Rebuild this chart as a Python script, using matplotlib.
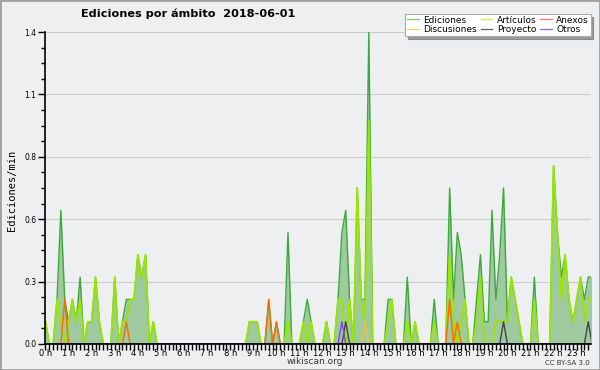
import numpy as np
import matplotlib.pyplot as plt
from matplotlib.lines import Line2D
from matplotlib.patches import Rectangle

# edits per minute, one value per 10-minute slot (12 slots per row = 2 hours)
ediciones = [
    0.1, 0, 0, 0.2, 0.6, 0.2, 0.1, 0.2, 0.1, 0.3, 0, 0.1,
    0.1, 0.3, 0.1, 0, 0, 0, 0.3, 0, 0.1, 0.2, 0.2, 0.2,
    0.4, 0.3, 0.4, 0, 0.1, 0, 0, 0, 0, 0, 0, 0,
    0, 0, 0, 0, 0, 0, 0, 0, 0, 0, 0, 0,
    0, 0, 0, 0, 0, 0.1, 0.1, 0.1, 0, 0, 0.2, 0,
    0.1, 0, 0, 0.5, 0, 0, 0, 0.1, 0.2, 0.1, 0, 0,
    0, 0.1, 0, 0, 0.2, 0.5, 0.6, 0.2, 0, 0.7, 0.2, 0.2,
    1.4, 0, 0, 0, 0, 0.2, 0.2, 0, 0, 0, 0.3, 0,
    0.1, 0, 0, 0, 0, 0.2, 0, 0, 0, 0.7, 0.2, 0.5,
    0.4, 0.2, 0, 0, 0.2, 0.4, 0.1, 0.1, 0.6, 0.2, 0.4, 0.7,
    0.1, 0.3, 0.2, 0.1, 0, 0, 0, 0.3, 0, 0, 0, 0,
    0.8, 0.5, 0.3, 0.4, 0.2, 0.1, 0.2, 0.3, 0.2, 0.3, 0.3, 0.2,
]
articulos = [
    0.1, 0, 0, 0.2, 0.1, 0, 0.1, 0.2, 0.1, 0.2, 0, 0.1,
    0.1, 0.3, 0.1, 0, 0, 0, 0.3, 0, 0.1, 0.1, 0.2, 0.2,
    0.4, 0.3, 0.4, 0, 0.1, 0, 0, 0, 0, 0, 0, 0,
    0, 0, 0, 0, 0, 0, 0, 0, 0, 0, 0, 0,
    0, 0, 0, 0, 0, 0.1, 0.1, 0.1, 0, 0, 0, 0,
    0, 0, 0, 0.1, 0, 0, 0, 0.1, 0, 0.1, 0, 0,
    0, 0.1, 0, 0, 0.2, 0.2, 0, 0.2, 0, 0.7, 0.2, 0.1,
    1.0, 0, 0, 0, 0, 0.1, 0.2, 0, 0, 0, 0.1, 0,
    0.1, 0, 0, 0, 0, 0.1, 0, 0, 0, 0.4, 0.1, 0,
    0.1, 0.2, 0, 0, 0.1, 0.3, 0, 0, 0, 0.1, 0.1, 0.1,
    0.1, 0.3, 0.2, 0.1, 0, 0, 0, 0.2, 0, 0, 0, 0,
    0.8, 0.5, 0.2, 0.4, 0.2, 0.1, 0.2, 0.3, 0.1, 0.2, 0.2, 0.1,
]
# sparse series: time slot -> edits per minute
anexos = {"00:50": 0.2, "03:30": 0.1, "09:40": 0.2, "10:00": 0.1,
          "17:30": 0.2, "17:50": 0.1}
discusiones = {"13:50": 0.1}
proyecto = {"13:00": 0.1, "19:50": 0.1, "23:30": 0.1}
otros = {"12:50": 0.1}

hour_labels = [f"{h} h" for h in range(24)]


def to_series(d):
    s = np.zeros(144)
    for k, v in d.items():
        hh, mm = k.split(":")
        s[int(hh) * 6 + int(mm) // 10] = v
    return s


hours = np.arange(144) / 6.0
bg = "#eeeff1"

fig = plt.figure(figsize=(6, 3.7), dpi=100, facecolor=bg)
ax = fig.add_axes([0.0758, 0.0703, 0.9092, 0.8432], facecolor=bg)

ax.fill_between(hours, ediciones, 0, color="#9fca9f", lw=0, zorder=1)
ax.plot(hours, ediciones, color="#3aaa3a", lw=1.0, zorder=3)
ax.plot(hours, articulos, color="#9be600", lw=1.3, zorder=4)
ax.plot(hours, to_series(anexos), color="#ff6a00", lw=1.0, zorder=5)
ax.plot(hours, to_series(discusiones), color="#f2c12e", lw=1.0, zorder=5)
ax.plot(hours, to_series(proyecto), color="#444444", lw=1.0, zorder=5)
ax.plot(hours, to_series(otros), color="#7f3fff", lw=1.0, zorder=6)

ax.set_xlim(0, 23.62)
ax.set_ylim(0, 1.4)
ax.set_xticks(range(24))
ax.set_xticklabels(hour_labels)
ax.set_xticks(np.arange(0, 23.62, 1 / 6.0), minor=True)
yt = np.arange(0, 1.41, 0.28)
ax.set_yticks(yt)
ax.set_yticklabels([f"{v:.1f}" for v in yt])
ax.set_yticks(np.arange(0, 1.41, 0.07), minor=True)
ax.tick_params(axis="y", which="major", direction="out", length=5, width=1, labelsize=5.5, pad=1.5)
ax.tick_params(axis="y", which="minor", direction="out", length=3, width=1)
ax.tick_params(axis="x", which="both", direction="out", length=4, width=1)
ax.tick_params(axis="x", which="major", labelsize=6, pad=-0.5)
ax.grid(axis="y", color="#cccccc", lw=0.8, zorder=0)
ax.set_axisbelow(True)
for s in ["top", "right"]:
    ax.spines[s].set_visible(False)
for s in ["left", "bottom"]:
    ax.spines[s].set_linewidth(1.2)
    ax.spines[s].set_zorder(10)

fig.text(0.313, 0.962, "Ediciones por ámbito  2018-06-01", fontsize=8.1,
         weight="bold", ha="center", va="center")
fig.text(0.02, 0.486, "Ediciones/min", rotation=90, family="DejaVu Sans Mono",
         fontsize=7.5, ha="center", va="center")
fig.text(0.525, 0.022, "wikiscan.org", fontsize=6.5, ha="center", va="center", color="#333333")
fig.text(0.983, 0.02, "CC BY-SA 3.0", fontsize=5, ha="right", va="center", color="#333333")

handles = [
    Line2D([], [], color="#7ccc7c", lw=0.9),
    Line2D([], [], color="#f5d060", lw=0.9),
    Line2D([], [], color="#ccee44", lw=0.9),
    Line2D([], [], color="#606060", lw=0.9),
    Line2D([], [], color="#f08060", lw=0.9),
    Line2D([], [], color="#9060f0", lw=0.9),
]
labels = ["Ediciones", "Discusiones", "Artículos", "Proyecto", "Anexos", "Otros"]
leg = fig.legend(handles, labels, loc="upper right", bbox_to_anchor=(0.992, 0.975),
                 ncol=3, fontsize=6.5, handlelength=1.3, handletextpad=0.5,
                 columnspacing=0.4, labelspacing=0.05, borderpad=0.2,
                 fancybox=False, shadow=True, framealpha=1)
leg.get_frame().set_edgecolor("#aaaaaa")
leg.get_frame().set_linewidth(0.8)

fig.patches.append(Rectangle((0, 0), 1, 1, transform=fig.transFigure, fill=False,
                             edgecolor="#a0a0a0", lw=2))

fig.savefig("out.png", dpi=100, facecolor=bg)
